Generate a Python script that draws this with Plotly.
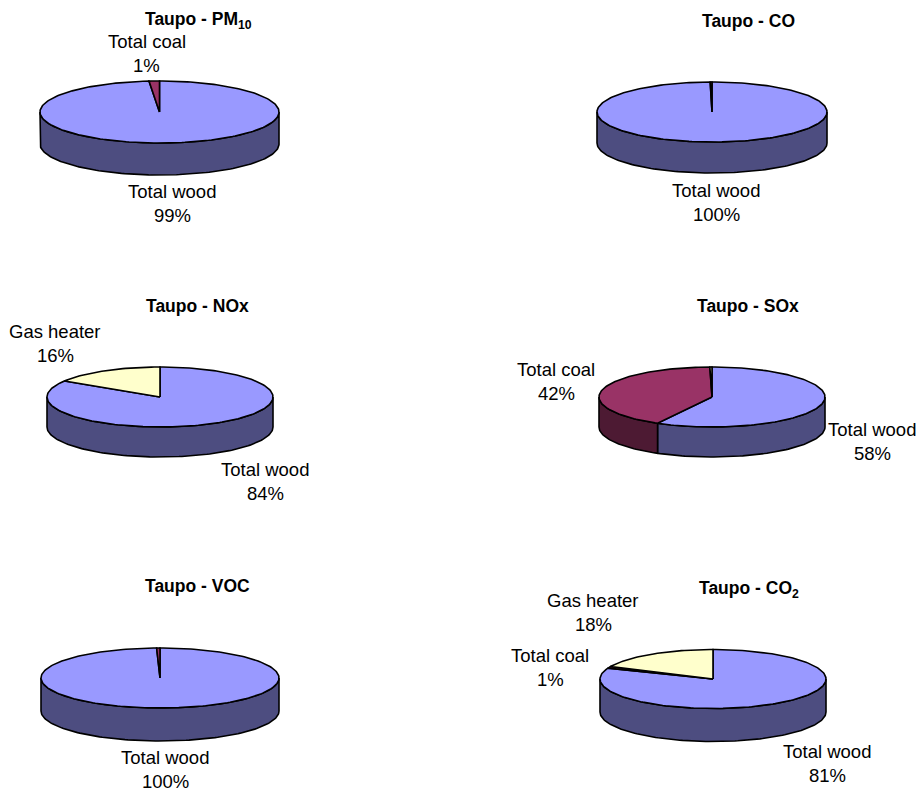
import numpy as np
import plotly.graph_objects as go

# Share of each source in domestic heating emissions, percent
pollutants = ["PM<sub>10</sub>", "CO", "NOx", "SOx", "VOC", "CO<sub>2</sub>"]
sources = ["Total wood", "Total coal", "Gas heater"]
wood_share = [98.6, 99.75, 84.0, 58.0, 99.55, 81.0]
coal_share = [1.4, 0.25, 0.0, 41.7, 0.45, 1.0]
gas_share = [0.0, 0.0, 16.0, 0.3, 0.0, 18.0]

# Which sources carry a label on each pie
labelled = [
    ["Total wood", "Total coal"],
    ["Total wood"],
    ["Total wood", "Gas heater"],
    ["Total wood", "Total coal"],
    ["Total wood"],
    ["Total wood", "Total coal", "Gas heater"],
]

# Pie geometry in page pixels: centre x, centre y, x radius, y radius, depth
PIE_BOXES = [
    (159.5, 112, 119.5, 31, 32),
    (712, 112, 115, 30, 31),
    (160, 397, 113, 30, 30),
    (712, 397, 113, 30, 30),
    (160, 678, 119, 30, 33),
    (713, 679, 113, 29.5, 33),
]
TITLE_POS = [(198, 20), (748, 21), (197, 306), (748, 306), (197.5, 586), (748.5, 589)]
LABEL_POS = [
    {"Total wood": (172, 191), "Total coal": (146.5, 41)},
    {"Total wood": (716, 190)},
    {"Total wood": (265, 469), "Gas heater": (55, 331)},
    {"Total wood": (872, 429), "Total coal": (556, 369)},
    {"Total wood": (165, 757)},
    {"Total wood": (827, 751), "Total coal": (550, 655), "Gas heater": (593, 600)},
]
LINE_GAP = 24

TOP_COLORS = {"Total wood": "#9999FF", "Total coal": "#993366", "Gas heater": "#FFFFCC"}
SIDE_COLORS = {"Total wood": "#4D4D80", "Total coal": "#4D1A33", "Gas heater": "#808066"}
FONT = "Liberation Sans, Arial, sans-serif"
LABEL_SIZE = 18.5
TITLE_SIZE = 17.5
OUTLINE = dict(color="#000000", width=1.6)


def arc(box, t0, t1):
    """Rim points between two clockwise angles measured from 12 o'clock, in degrees."""
    cx, cy, a, b, _ = box
    steps = max(2, int(abs(t1 - t0) / 1.5) + 2)
    t = np.radians(np.linspace(t0, t1, steps))
    return cx + a * np.sin(t), cy - b * np.cos(t)


def add_polygon(fig, xs, ys, color):
    fig.add_trace(go.Scatter(
        x=xs, y=ys, mode="lines", fill="toself", fillcolor=color,
        line=OUTLINE, hoverinfo="skip", showlegend=False,
    ))


fig = go.Figure()
annotations = []

for i, pollutant in enumerate(pollutants):
    box = PIE_BOXES[i]
    cx, cy, _, _, depth = box
    shares = dict(zip(sources, (wood_share[i], coal_share[i], gas_share[i])))
    total = sum(shares.values())

    # Slice angle ranges, clockwise from the top
    spans = []
    start = 0.0
    for source, share in shares.items():
        end = start + share / total * 360
        if share > 0:
            spans.append((source, start, end))
        start = end

    # Rim wall: only the front half of the disc shows
    for source, t0, t1 in spans:
        lo, hi = max(t0, 90), min(t1, 270)
        if lo < hi:
            x, y = arc(box, lo, hi)
            xs = np.concatenate([x, x[::-1], x[:1]])
            ys = np.concatenate([y, y[::-1] + depth, y[:1]])
            add_polygon(fig, xs, ys, SIDE_COLORS[source])

    # Top face
    for source, t0, t1 in spans:
        x, y = arc(box, t0, t1)
        add_polygon(fig, np.concatenate([[cx], x, [cx]]),
                    np.concatenate([[cy], y, [cy]]), TOP_COLORS[source])

    tx, ty = TITLE_POS[i]
    annotations.append(dict(
        x=tx, y=ty, text=f"<b>Taupo - {pollutant}</b>", showarrow=False,
        xanchor="center", yanchor="middle",
        font=dict(family=FONT, size=TITLE_SIZE, color="#000000"),
    ))

    for source in labelled[i]:
        lx, ly = LABEL_POS[i][source]
        percent = f"{shares[source] / total * 100:.0f}%"
        for offset, text in ((0, source), (LINE_GAP, percent)):
            annotations.append(dict(
                x=lx, y=ly + offset, text=text, showarrow=False,
                xanchor="center", yanchor="middle",
                font=dict(family=FONT, size=LABEL_SIZE, color="#000000"),
            ))

hidden = dict(visible=False, fixedrange=True)
fig.update_layout(
    width=920, height=792,
    margin=dict(l=0, r=0, t=0, b=0),
    paper_bgcolor="#FFFFFF", plot_bgcolor="#FFFFFF",
    xaxis=dict(range=[0, 920], **hidden),
    yaxis=dict(range=[792, 0], **hidden),
    annotations=annotations,
    showlegend=False,
)

fig.write_html("out.html")
